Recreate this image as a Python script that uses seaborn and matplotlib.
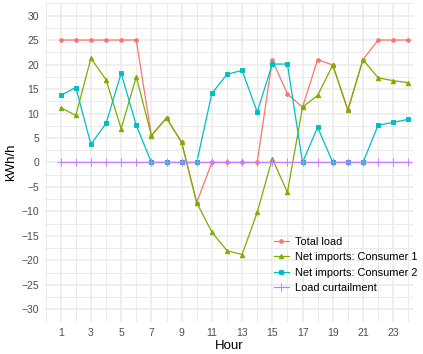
import seaborn as sns
import matplotlib.pyplot as plt
import pandas as pd
import numpy as np

# Données
hours = list(range(1, 25))
total_load = [25, 25, 25, 25, 25, 25, 5.5, 9.1, 4.1, -8.2, 0, 0,
              0, 0, 20.9, 14.0, 11.3, 21.0, 19.9, 10.7, 21.0, 25, 25, 25]
consumer1 = [11.2, 9.6, 21.3, 16.9, 6.9, 17.5, 5.5, 9.1, 4.1, -8.2, -14.2, -18.0,
             -18.8, -10.2, 0.8, -6.1, 11.3, 13.7, 19.9, 10.7, 21.0, 17.3, 16.7, 16.3]
consumer2 = [13.7, 15.3, 3.7, 8.0, 18.2, 7.6, 0, 0, 0, 0, 14.1, 18.0,
             18.8, 10.3, 20.1, 20.1, 0, 7.2, 0, 0, 0, 7.6, 8.2, 8.8]
curtailment = [0] * 24

series = ["Total load", "Net imports: Consumer 1", "Net imports: Consumer 2", "Load curtailment"]
colors = ["#F8766D", "#7CAE00", "#00BFC4", "#C77CFF"]
markers = ["o", "^", "s", "+"]
sizes = [2.6, 3.2, 3.2, 5.5]

df = pd.DataFrame({
    "Hour": hours * 4,
    "value": total_load + consumer1 + consumer2 + curtailment,
    "series": np.repeat(series, 24),
})

plt.rcParams["font.family"] = ["Liberation Sans", "DejaVu Sans"]
fig = plt.figure(figsize=(4.23, 3.54), dpi=100)
ax = fig.add_axes([0.106, 0.09, 0.87, 0.902])

# une courbe par série (marqueurs pleins et "+" ne se mélangent pas)
for name, col, m, ms in zip(series, colors, markers, sizes):
    sub = df[df["series"] == name]
    sns.lineplot(data=sub, x="Hour", y="value", color=col, marker=m,
                 markersize=ms, markeredgecolor=col, markeredgewidth=0.7,
                 linewidth=0.9, label=name, ax=ax)

# Style ggplot minimal
ax.set_facecolor("white")
for s in ax.spines.values():
    s.set_visible(False)
ax.set_xlim(-0.05, 24.3)
ax.set_ylim(-32.6, 32.6)
ax.set_xticks(range(1, 25, 2))
ax.set_xticks(range(0, 25, 2), minor=True)
ax.set_yticks(range(-30, 31, 5))
ax.set_yticks(np.arange(-32.5, 33, 2.5), minor=True)
ax.grid(which="major", color="#EBEBEB", linewidth=1.1, zorder=0)
ax.grid(which="minor", color="#EBEBEB", linewidth=0.7, zorder=0)
ax.set_axisbelow(True)
ax.tick_params(which="both", length=0, labelsize=7.5, labelcolor="#4D4D4D", pad=4)
ax.set_yticklabels([str(v).replace("-", "\u2212") for v in range(-30, 31, 5)])
ax.set_xlabel("Hour", fontsize=9.5, labelpad=2)
ax.set_ylabel("kWh/h", fontsize=9.5, labelpad=3)

leg = ax.legend(title=None, loc="lower right", bbox_to_anchor=(1.04, 0.06),
                frameon=False, fontsize=7.9, handlelength=1.3, handletextpad=0.6,
                labelspacing=0.5)

plt.savefig("out.png", dpi=100)
